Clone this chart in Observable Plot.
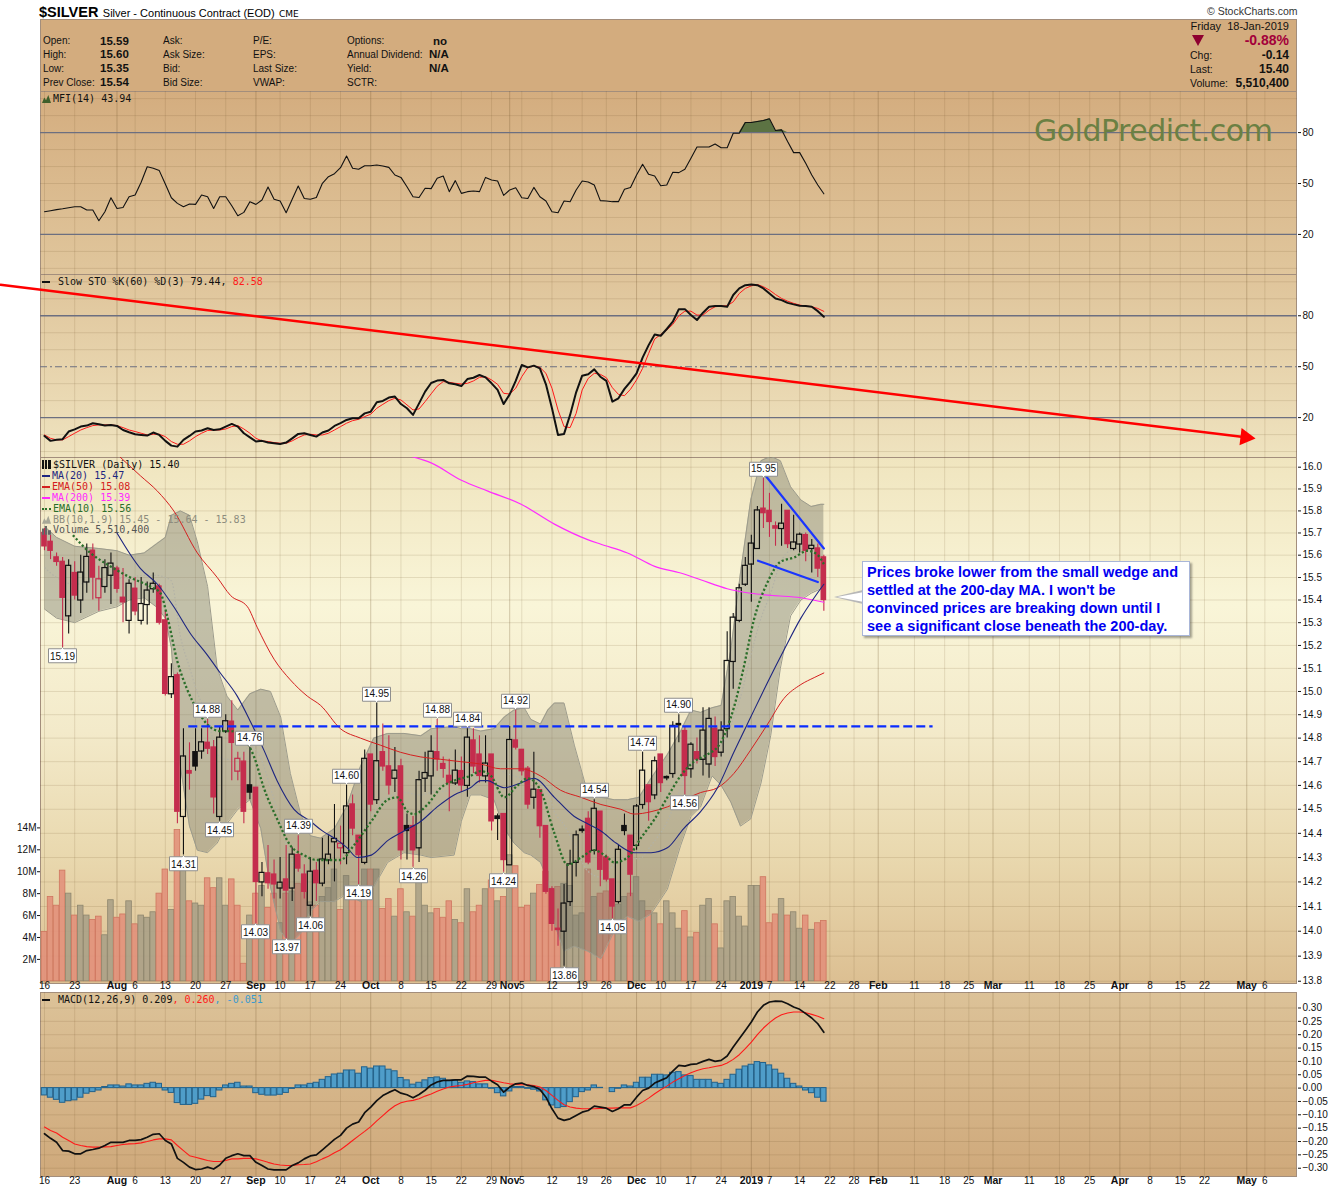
<!DOCTYPE html>
<html><head><meta charset="utf-8">
<script src="https://cdn.jsdelivr.net/npm/d3@7"></script>
<script src="https://cdn.jsdelivr.net/npm/@observablehq/plot@0.6"></script>
<style>
body{margin:0;background:#fff;}
#chart{position:relative;width:1340px;height:1192px;overflow:hidden;font-family:"Liberation Sans",Arial,sans-serif;background:#fff;}
.ic{display:inline-block;vertical-align:middle;margin-right:2px;}
</style></head>
<body><div id="chart"></div>
<script>
// ---------- date axis (trading-day index) ----------
const tickIdx = [0,5,12,15,20,25,30,35,39,44,49,54,59,64,69,74,77,79,84,89,93,98,102,107,112,117,120,125,130,134,138,144,149,153,157,163,168,173,178,183,188,192,199,202];
const tickLab = ["16","23","Aug","6","13","20","27","Sep","10","17","24","Oct","8","15","22","29","Nov","5","12","19","26","Dec","10","17","24","2019","7","14","22","28","Feb","11","18","25","Mar","11","18","25","Apr","8","15","22","May","6"];
const monthLab = ["Aug","Sep","Oct","Nov","Dec","2019","Feb","Mar","Apr","May"];
const priceTicks = [16.0,15.9,15.8,15.7,15.6,15.5,15.4,15.3,15.2,15.1,15.0,14.9,14.8,14.7,14.6,14.5,14.4,14.3,14.2,14.1,14.0,13.9,13.8];
const volTicks = [2,4,6,8,10,12,14];
const oscTicks = [80,50,20];
const macdTicks = [0.30,0.25,0.20,0.15,0.10,0.05,0.00,-0.05,-0.10,-0.15,-0.20,-0.25,-0.30];

// ---------- daily OHLC + volume (Jul 16 2018 .. Jan 18 2019) ----------
const O = [15.70,15.66,15.59,15.57,15.33,15.52,15.40,15.48,15.62,15.41,
 15.46,15.51,15.54,15.41,15.31,15.45,15.31,15.38,15.45,15.46,
 15.31,14.99,15.07,14.47,14.66,14.74,14.745,14.78,14.76,14.47,
 14.83,14.87,14.66,14.70,14.60,14.59,14.20,14.235,14.23,14.175,
 14.21,14.175,14.31,14.23,14.105,14.245,14.195,14.29,14.365,14.34,
 14.32,14.52,14.39,14.28,14.73,14.54,14.74,14.68,14.63,14.68,
 14.43,14.43,14.34,14.63,14.64,14.74,14.69,14.64,14.61,14.66,
 14.60,14.79,14.73,14.64,14.73,14.47,14.48,14.27,14.79,14.75,
 14.67,14.55,14.58,14.43,14.17,14.01,14.00,14.12,14.28,14.415,
 14.46,14.33,14.49,14.30,14.21,14.12,14.43,14.39,14.35,14.52,
 14.60,14.56,14.73,14.635,14.65,14.86,14.83,14.67,14.74,14.71,
 14.69,14.84,14.74,14.84,15.13,15.31,15.47,15.56,15.63,15.81,
 15.80,15.73,15.72,15.80,15.63,15.65,15.69,15.63,15.63,15.59];
const H = [15.72,15.69,15.61,15.59,15.58,15.57,15.60,15.65,15.65,15.55,
 15.58,15.61,15.55,15.54,15.49,15.50,15.50,15.48,15.52,15.47,
 15.35,15.12,15.08,14.84,14.78,14.84,14.84,14.88,14.79,14.85,
 14.90,14.96,14.74,14.74,14.76,14.59,14.28,14.35,14.29,14.30,
 14.35,14.34,14.39,14.27,14.30,14.28,14.38,14.39,14.52,14.43,
 14.60,14.56,14.39,14.75,14.73,14.95,14.86,14.81,14.76,14.71,
 14.48,14.47,14.66,14.74,14.81,14.88,14.72,14.71,14.75,14.72,
 14.84,14.84,14.81,14.81,14.73,14.48,14.48,14.85,14.92,14.75,
 14.68,14.74,14.58,14.43,14.18,14.09,14.19,14.33,14.41,14.43,
 14.49,14.54,14.49,14.31,14.21,14.35,14.48,14.39,14.52,14.74,
 14.60,14.72,14.73,14.64,14.87,14.90,14.85,14.78,14.80,14.93,
 14.93,14.89,14.87,15.26,15.34,15.47,15.59,15.69,15.82,15.95,
 15.88,15.75,15.83,15.80,15.78,15.70,15.70,15.67,15.65,15.60];
const L = [15.62,15.58,15.55,15.19,15.25,15.40,15.34,15.43,15.40,15.35,
 15.43,15.38,15.43,15.30,15.25,15.33,15.29,15.29,15.43,15.29,
 14.98,14.97,14.44,14.31,14.58,14.66,14.71,14.73,14.48,14.45,
 14.82,14.62,14.62,14.44,14.54,14.03,14.14,14.17,14.13,14.13,
 13.97,14.12,14.24,14.13,14.06,14.12,14.18,14.27,14.20,14.27,
 14.27,14.39,14.19,14.27,14.49,14.52,14.66,14.56,14.57,14.29,
 14.29,14.26,14.28,14.57,14.56,14.66,14.63,14.49,14.60,14.57,
 14.55,14.65,14.61,14.61,14.41,14.37,14.24,14.27,14.75,14.64,
 14.50,14.50,14.38,14.15,14.00,13.94,13.86,14.10,14.22,14.40,
 14.27,14.31,14.18,14.20,14.05,14.11,14.39,14.14,14.33,14.50,
 14.45,14.54,14.57,14.62,14.63,14.78,14.56,14.63,14.69,14.64,
 14.63,14.68,14.72,14.80,15.01,15.30,15.46,15.39,15.63,15.72,
 15.68,15.64,15.64,15.63,15.62,15.61,15.57,15.52,15.50,15.35];
const C = [15.64,15.62,15.57,15.41,15.55,15.42,15.52,15.59,15.50,15.49,
 15.54,15.56,15.45,15.39,15.47,15.35,15.38,15.44,15.47,15.30,
 14.99,15.06,14.49,14.72,14.65,14.68,14.78,14.755,14.55,14.80,
 14.87,14.78,14.71,14.49,14.57,14.20,14.235,14.195,14.19,14.195,
 14.165,14.31,14.255,14.16,14.24,14.195,14.29,14.31,14.375,14.355,
 14.51,14.42,14.31,14.71,14.52,14.70,14.68,14.60,14.66,14.33,
 14.41,14.33,14.62,14.65,14.74,14.71,14.67,14.61,14.66,14.60,
 14.80,14.68,14.64,14.69,14.45,14.46,14.29,14.79,14.76,14.66,
 14.52,14.58,14.43,14.16,14.03,14.005,14.11,14.27,14.39,14.41,
 14.28,14.50,14.25,14.21,14.10,14.33,14.41,14.23,14.51,14.66,
 14.53,14.70,14.61,14.63,14.85,14.855,14.64,14.77,14.71,14.83,
 14.88,14.72,14.83,15.13,15.32,15.45,15.55,15.65,15.80,15.79,
 15.75,15.72,15.74,15.65,15.655,15.69,15.62,15.64,15.54,15.40];
const V = [4.5,7.7,6.9,10.1,8.0,6.0,6.9,6.0,5.6,5.9,
 4.2,7.4,5.8,6.1,7.3,5.2,6.0,5.8,6.3,8.0,
 10.2,6.5,13.8,10.8,7.3,7.1,6.9,9.4,8.5,9.4,
 6.9,9.3,6.9,1.6,6.0,8.0,8.7,6.7,8.0,5.3,
 8.0,8.2,8.9,8.2,7.2,6.9,7.7,8.5,10.2,6.5,
 9.6,7.7,8.5,10.2,10.2,10.2,6.6,7.5,5.9,8.4,
 6.3,5.9,9.9,6.9,6.2,6.6,5.8,7.3,5.6,5.3,
 8.4,6.3,6.9,8.4,9.2,7.3,7.7,11.5,10.5,6.7,
 6.9,8.0,8.8,10.0,8.3,8.6,8.9,8.7,6.0,6.2,
 10.2,7.7,8.0,8.2,7.3,7.0,7.7,8.0,9.5,7.3,
 6.4,6.2,5.2,7.3,6.2,4.8,6.4,4.0,4.4,6.9,
 7.5,5.2,3.0,7.3,7.7,5.9,5.0,8.7,8.7,9.5,
 5.3,6.1,7.5,6.0,6.3,4.8,6.0,4.7,5.3,5.51];

// ---------- price overlays, read at sample points [index, value] ----------
const ma20 = [[12,15.70],[15.9,15.54],[18.7,15.47],[21.4,15.37],[24.2,15.25],[26.9,15.16],[29.1,15.08],[31.9,14.98],[34.1,14.87],[36.3,14.75],[38.5,14.62],[41.3,14.50],[44,14.45],[46,14.41],[48,14.38],[50.1,14.34],[51.8,14.30],[54.1,14.31],[56.8,14.37],[59.5,14.41],[62.3,14.45],[65,14.51],[67.8,14.56],[70.5,14.59],[72.2,14.62],[73.4,14.62],[75,14.60],[76.1,14.59],[78.8,14.61],[81,14.63],[84.4,14.55],[87.7,14.47],[89.9,14.44],[92.1,14.41],[94.6,14.36],[97.6,14.32],[100.4,14.32],[103.1,14.34],[105.8,14.42],[108.6,14.49],[111.4,14.59],[114.1,14.74],[116.9,14.89],[119.7,15.04],[122.4,15.18],[125.2,15.32],[127.4,15.41],[129,15.47]];
const ema50 = [[12,16.06],[15.9,15.96],[18.7,15.89],[21.4,15.80],[25.3,15.61],[28.6,15.50],[30.8,15.42],[33.6,15.37],[35.2,15.28],[38,15.14],[40.7,15.05],[43.5,14.98],[45.7,14.94],[49,14.84],[52.3,14.80],[55.6,14.77],[58.9,14.74],[62.3,14.72],[65.6,14.71],[68.9,14.70],[72.2,14.69],[75.5,14.67],[78.8,14.67],[82.1,14.64],[85.4,14.58],[88.8,14.55],[92.1,14.52],[95.4,14.50],[97.6,14.48],[100.4,14.49],[103.1,14.51],[105.8,14.54],[108.6,14.57],[111.4,14.59],[114.1,14.65],[116.9,14.75],[119.7,14.86],[122.4,14.97],[125.2,15.03],[127.4,15.06],[129,15.08]];
const ma200 = [[60.7,16.05],[64,16.02],[69,15.94],[73.4,15.89],[78.9,15.83],[84.4,15.74],[89.9,15.67],[92,15.65],[96.5,15.61],[101,15.55],[105.3,15.52],[108.6,15.49],[113,15.45],[116.9,15.43],[120.5,15.42],[125.2,15.41],[129,15.39]];
const ema10 = [[4.7,15.69],[7.6,15.61],[10.9,15.55],[14.2,15.50],[17.5,15.46],[19.2,15.43],[20.3,15.33],[22,15.13],[23.6,15.01],[25.3,14.92],[26.9,14.86],[29.1,14.83],[30.8,14.83],[33,14.80],[34.7,14.72],[36.3,14.59],[38.5,14.46],[40.7,14.35],[42.9,14.31],[45.1,14.29],[47.4,14.29],[49,14.29],[51.2,14.35],[54.1,14.45],[56.8,14.54],[58.4,14.55],[60.1,14.49],[61.2,14.48],[63.4,14.52],[65.6,14.59],[67.8,14.62],[70.5,14.64],[72.2,14.66],[73.9,14.64],[76.1,14.55],[78.3,14.60],[80,14.63],[82.1,14.58],[84.4,14.40],[86.6,14.27],[88.8,14.30],[91,14.33],[93.2,14.30],[94.3,14.28],[96.5,14.30],[98.7,14.38],[101,14.46],[103.1,14.55],[105.3,14.64],[107.5,14.70],[109.7,14.73],[111.9,14.78],[114.1,14.93],[115.7,15.10],[117.4,15.31],[119.7,15.48],[121.8,15.57],[124.1,15.59],[126.3,15.62],[128,15.60],[129,15.56]];
const bbIdx = [0,2,5,9,12,14,16.5,18.5,20,21,22.5,24,25.3,27,28.6,30.2,32,34,35.8,37.4,39.1,40.7,42.4,44,45.7,48,50,52.3,54.5,56.8,59.5,62.3,64,67.8,69,70.5,72.2,74.4,76.1,77.7,79.4,80.5,82.1,83.3,84.4,86,87.7,89.9,92.1,94.3,96.5,98.4,100.4,103.1,105.3,107,108.6,110.5,112,113.6,115.2,116.9,118.6,120.2,121.8,123.5,125.2,126.9,128.5,129];
const bbUpper = [15.73,15.68,15.64,15.63,15.62,15.60,15.61,15.65,15.68,15.78,15.80,15.78,15.66,15.46,15.10,14.98,14.92,14.99,15.01,15.00,14.89,14.65,14.48,14.39,14.38,14.42,14.51,14.68,14.80,14.82,14.82,14.81,14.84,14.85,14.84,14.84,14.83,14.84,14.89,14.92,14.93,14.88,14.86,14.92,14.95,14.95,14.77,14.57,14.55,14.54,14.54,14.55,14.63,14.73,14.83,14.92,14.91,14.93,14.94,15.18,15.52,15.85,16.03,16.05,16.03,15.91,15.85,15.82,15.83,15.83];
const bbLower = [15.36,15.32,15.30,15.35,15.37,15.40,15.41,15.37,15.32,15.19,14.68,14.43,14.33,14.32,14.36,14.44,14.50,14.54,14.42,14.18,14.00,13.95,13.99,14.08,14.12,14.12,14.15,14.12,14.18,14.28,14.32,14.31,14.30,14.31,14.45,14.56,14.56,14.54,14.42,14.36,14.32,14.31,14.28,14.21,14.03,13.92,13.94,13.92,13.89,14.00,14.06,14.04,14.07,14.17,14.35,14.47,14.51,14.64,14.60,14.53,14.43,14.46,14.61,14.81,15.10,15.33,15.40,15.43,15.45,15.45];

// ---------- annotations ----------
const callouts = [[3,"L"],[23,"L"],[27,"H"],[29,"L"],[34,"H"],[35,"L"],[40,"L"],[42,"H"],[44,"L"],[50,"H"],[52,"L"],[55,"H"],[61,"L"],[65,"H"],[70,"H"],[76,"L"],[78,"H"],[86,"L"],[91,"H"],[94,"L"],[99,"H"],[105,"H"],[106,"L"],[119,"H"]];
const supportLine = [[23.8,14.85],[147,14.85]];
const wedgeUpper = [[119.1,15.97],[129,15.63]];
const wedgeLower = [[118.1,15.575],[128,15.48]];
const trendLine = [[-7.28,98.2],[198.8,8.4]];

// ---------- indicators ----------
const mfi = [33.4,34.0,34.6,35.1,35.7,36.3,36.3,34.4,34.4,28.1,
 33.4,41.6,35.3,35.9,42.2,43.2,50.7,59.9,59.0,57.6,
 49.7,41.6,38.3,36.3,37.9,37.7,43.2,42.2,35.3,42.2,
 42.2,36.9,31.0,33.0,39.3,37.7,40.3,47.9,40.7,39.7,
 32.8,40.7,48.5,41.2,40.7,41.8,50.1,54.0,55.8,59.3,
 66.2,59.0,58.4,60.5,60.5,60.9,60.3,59.5,55.0,53.6,
 48.1,42.2,41.8,47.2,47.0,53.1,54.4,45.2,51.7,44.2,
 45.2,45.6,45.2,53.6,52.1,51.5,43.0,46.2,47.5,41.6,
 41.2,47.7,42.2,39.7,33.4,32.8,39.7,39.3,46.2,51.5,
 50.9,49.1,39.9,39.7,39.3,39.3,46.6,47.7,55.0,61.3,
 55.4,54.4,48.7,49.1,56.6,56.4,58.4,64.9,71.5,71.5,
 71.5,73.3,71.1,71.1,79.6,79.6,85.9,85.9,86.5,87.1,
 88.1,81.2,81.6,74.7,68.2,68.2,61.9,55.0,49.1,43.94];
const stoK = [9.2,6.3,6.9,7.3,11.8,13.1,14.7,15.3,16.7,16.1,
 15.3,15.7,15.1,12.7,11.4,10.2,9.8,9.4,11.2,9.8,
 6.3,3.5,2.9,6.9,9.2,11.8,12.4,13.7,12.7,13.1,
 14.7,16.3,14.7,10.8,8.4,5.9,6.3,5.3,4.9,4.5,
 5.3,7.8,10.4,10.8,9.8,8.8,11.2,12.4,15.1,16.7,
 18.6,19.6,19.6,22.5,23.5,29.0,29.8,31.8,32.4,28.0,
 25.5,21.6,28.4,35.3,40.4,41.8,42.2,40.2,39.6,38.6,
 42.7,43.5,45.1,43.7,40.2,36.3,28.0,33.7,41.6,51.0,
 49.6,50.6,49.0,39.6,25.5,9.8,10.4,21.6,34.9,44.7,
 45.5,48.4,44.1,41.6,29.4,31.4,36.9,41.2,46.1,55.3,
 62.7,69.0,68.2,72.2,76.5,83.9,83.9,80.4,77.5,81.8,
 85.3,85.7,85.7,85.3,92.2,96.1,98.0,98.4,98.0,96.1,
 93.1,90.2,89.2,87.6,86.7,85.9,85.7,85.3,82.7,79.44];
const stoD = [9.8,7.8,6.9,6.9,8.8,10.8,12.7,14.1,15.3,15.7,
 15.7,15.7,15.3,14.1,12.7,11.8,10.8,9.8,10.2,10.2,
 8.8,5.9,4.3,4.3,6.3,8.8,10.8,12.4,12.7,12.7,
 13.3,14.7,15.3,13.3,10.8,7.8,6.3,5.9,5.3,4.9,
 4.9,6.3,8.2,9.8,10.2,9.8,9.8,10.8,12.7,14.7,
 16.7,18.2,19.0,20.6,22.0,25.5,27.8,30.0,31.4,30.4,
 27.5,24.5,25.1,29.4,34.0,38.5,41.2,40.8,40.2,39.8,
 40.2,41.6,43.7,44.1,42.2,39.6,34.3,33.9,37.3,44.1,
 49.4,50.4,49.6,46.1,37.3,24.5,14.7,14.1,22.5,36.3,
 43.1,46.1,45.5,43.5,37.6,33.7,32.9,36.7,42.2,49.0,
 57.8,66.3,69.0,71.6,74.9,80.0,82.7,82.7,80.4,80.4,
 83.3,85.3,85.7,85.9,88.2,93.1,96.1,97.6,98.4,97.1,
 95.1,92.5,90.2,88.6,87.3,86.3,85.7,85.3,84.3,82.58];
const macdLine = [-0.171,-0.188,-0.203,-0.234,-0.236,-0.246,-0.246,-0.234,-0.230,-0.225,
 -0.215,-0.203,-0.203,-0.203,-0.196,-0.196,-0.193,-0.184,-0.173,-0.171,
 -0.196,-0.209,-0.263,-0.278,-0.296,-0.305,-0.303,-0.296,-0.303,-0.288,
 -0.263,-0.253,-0.246,-0.253,-0.253,-0.278,-0.290,-0.303,-0.306,-0.306,
 -0.306,-0.290,-0.280,-0.265,-0.254,-0.250,-0.231,-0.212,-0.192,-0.177,
 -0.150,-0.135,-0.127,-0.092,-0.071,-0.047,-0.028,-0.016,-0.006,-0.019,
 -0.025,-0.036,-0.024,-0.008,0.012,0.023,0.029,0.029,0.031,0.031,
 0.045,0.044,0.041,0.041,0.026,0.0125,-0.015,0.004,0.016,0.019,
 0.010,0.006,-0.005,-0.034,-0.0775,-0.1125,-0.121,-0.115,-0.1025,-0.090,
 -0.084,-0.0675,-0.071,-0.075,-0.0875,-0.0775,-0.0625,-0.0625,-0.034,-0.009,
 0.0,0.019,0.029,0.039,0.064,0.085,0.0825,0.089,0.091,0.100,
 0.1075,0.100,0.104,0.120,0.154,0.185,0.216,0.2475,0.285,0.310,
 0.3225,0.326,0.325,0.316,0.304,0.295,0.279,0.2625,0.241,0.209];
const macdSignal = [-0.146,-0.159,-0.168,-0.184,-0.196,-0.209,-0.215,-0.219,-0.221,-0.221,
 -0.220,-0.219,-0.215,-0.211,-0.209,-0.208,-0.205,-0.200,-0.194,-0.190,
 -0.190,-0.194,-0.215,-0.234,-0.253,-0.259,-0.265,-0.271,-0.275,-0.275,
 -0.271,-0.265,-0.265,-0.263,-0.263,-0.265,-0.271,-0.278,-0.284,-0.288,
 -0.290,-0.290,-0.287,-0.286,-0.284,-0.276,-0.265,-0.255,-0.242,-0.231,
 -0.214,-0.196,-0.179,-0.162,-0.144,-0.123,-0.103,-0.083,-0.066,-0.055,
 -0.049,-0.046,-0.040,-0.030,-0.022,-0.012,-0.003,0.004,0.0075,0.010,
 0.014,0.020,0.025,0.029,0.029,0.025,0.020,0.016,0.014,0.0125,
 0.0125,0.010,0.004,-0.009,-0.0275,-0.046,-0.0625,-0.071,-0.075,-0.0775,
 -0.0775,-0.0775,-0.076,-0.075,-0.075,-0.074,-0.074,-0.074,-0.065,-0.0525,
 -0.0375,-0.021,-0.006,0.0075,0.0225,0.035,0.0475,0.0575,0.066,0.0725,
 0.076,0.081,0.085,0.094,0.1075,0.125,0.1475,0.1725,0.200,0.225,
 0.245,0.2625,0.275,0.281,0.285,0.285,0.2825,0.276,0.269,0.260];
const macdHist = [-0.0275,-0.036,-0.044,-0.055,-0.049,-0.046,-0.036,-0.021,-0.015,-0.009,
 0.004,0.010,0.010,0.006,0.014,0.010,0.010,0.016,0.020,0.016,
 -0.009,-0.018,-0.056,-0.063,-0.063,-0.059,-0.043,-0.030,-0.034,-0.009,
 0.010,0.016,0.020,0.006,0.006,-0.019,-0.025,-0.028,-0.028,-0.025,
 -0.018,-0.003,0.010,0.010,0.016,0.020,0.031,0.041,0.051,0.054,
 0.066,0.066,0.054,0.078,0.073,0.081,0.081,0.069,0.063,0.038,
 0.029,0.013,0.020,0.029,0.0375,0.040,0.035,0.0275,0.029,0.020,
 0.025,0.0225,0.014,0.014,-0.0025,-0.019,-0.031,-0.0125,0.004,0.004,
 -0.0025,-0.006,-0.0125,-0.046,-0.065,-0.075,-0.071,-0.0525,-0.034,-0.015,
 -0.009,0.010,0.001,0.0,-0.015,-0.0025,0.010,0.006,0.020,0.039,
 0.039,0.050,0.050,0.0475,0.0575,0.060,0.0475,0.045,0.031,0.031,
 0.031,0.020,0.016,0.031,0.050,0.069,0.081,0.0875,0.0975,0.094,
 0.085,0.069,0.054,0.035,0.016,0.006,-0.009,-0.019,-0.036,-0.051];

// ================= rendering =================
const root = document.getElementById("chart");
function div(css, html){const d=document.createElement("div");d.style.cssText="position:absolute;"+css;if(html!=null)d.innerHTML=html;root.appendChild(d);return d;}

const RED = "#c42d4d";
const ticks = tickIdx.map((i,k)=>({i, t: tickLab[k], m: monthLab.includes(tickLab[k])}));
const candles = O.map((o,k)=>{const c=C[k];const up=k>0&&c>=C[k-1];return {i:k,o,h:H[k],l:L[k],c,v:V[k],up,col:up?"#111":RED,hollow:c>=o};});
const series = arr => arr.map((v,i)=>({i,v}));
const bb = bbIdx.map((i,k)=>({i, up: bbUpper[k], lo: bbLower[k], mid: (bbUpper[k]+bbLower[k])/2}));
const tipData = callouts.map(([i,s])=>({i,s,v: s==="H"?H[i]:L[i]}));

const X = {domain:[-0.66,207.4], axis:null};
const FONT = "'Liberation Sans', Arial, sans-serif";
function frame(top,bottom){
  return {width:1340,height:1192,marginLeft:40,marginRight:43,marginTop:top,marginBottom:1192-bottom,
    style:{position:"absolute",left:"0px",top:"0px",background:"transparent",overflow:"visible",
      fontFamily:FONT,fontSize:"10px",pointerEvents:"none",maxWidth:"none",color:"#111"}};
}
const GRID = "#6b4e28";
function vgrid(){return [
  Plot.ruleX(ticks.filter(d=>!d.m),{x:"i",stroke:GRID,strokeOpacity:0.15}),
  Plot.ruleX(ticks.filter(d=>d.m),{x:"i",stroke:GRID,strokeOpacity:0.28})
];}
function dateLabels(dy){return [
  Plot.text(ticks.filter(d=>!d.m),{x:"i",text:"t",frameAnchor:"bottom",dy,fontSize:10,fill:"#111"}),
  Plot.text(ticks.filter(d=>d.m),{x:"i",text:"t",frameAnchor:"bottom",dy,fontSize:10.5,fontWeight:"bold",fill:"#111"})
];}
const yAxisR = (t,f)=>Plot.axisY({anchor:"right",ticks:t,tickFormat:f,tickSize:3,tickPadding:2,fontSize:10,label:null});
function add(p){root.appendChild(p);}

// panel backgrounds
div("left:40px;top:19px;width:1257px;height:73px;box-sizing:border-box;border:1px solid #a38e7c;background:#d3ac7e;");
div("left:40px;top:91px;width:1257px;height:184px;box-sizing:border-box;border:1px solid #a38e7c;background:linear-gradient(#d4ad7f,#e0c69c);");
div("left:40px;top:274px;width:1257px;height:184px;box-sizing:border-box;border:1px solid #a38e7c;background:linear-gradient(#dfc49a,#efe3bf);");
div("left:40px;top:457px;width:1257px;height:527px;box-sizing:border-box;border:1px solid #a38e7c;background:linear-gradient(#f0e5bf 0%,#f9f5d8 28%,#f3eaca 52%,#e9d8ae 76%,#dcbf92 100%);");
div("left:40px;top:992px;width:1257px;height:185px;box-sizing:border-box;border:1px solid #a38e7c;background:linear-gradient(#dcc298,#cfa97b);");

// ---- MFI ----
add(Plot.plot({...frame(91,274), x:X, y:{domain:[-3.6,104.2],label:null},
  marks:[
    ...vgrid(),
    Plot.ruleY([0,10,30,40,50,60,70,90,100],{stroke:GRID,strokeOpacity:0.15}),
    Plot.ruleY([80,20],{stroke:"#6c6f80",strokeWidth:1.3}),
    Plot.areaY(series(mfi),{x:"i",y1:80,y2:d=>Math.max(80,d.v),fill:"#5c7343"}),
    Plot.line(series(mfi),{x:"i",y:"v",stroke:"#111",strokeWidth:1.1}),
    yAxisR(oscTicks)
  ]}));

// ---- Slow STO ----
add(Plot.plot({...frame(274,457), x:X, y:{domain:[-3.5,104.3],label:null},
  marks:[
    ...vgrid(),
    Plot.ruleY([0,10,30,40,60,70,90,100],{stroke:GRID,strokeOpacity:0.15}),
    Plot.ruleY([80,20],{stroke:"#6c6f80",strokeWidth:1.3}),
    Plot.ruleY([50],{stroke:"#6c6f80",strokeWidth:1.1,strokeDasharray:"7,3,2,3"}),
    Plot.line(series(stoD),{x:"i",y:"v",stroke:"#ff1a1a",strokeWidth:1}),
    Plot.line(series(stoK),{x:"i",y:"v",stroke:"#111",strokeWidth:2}),
    Plot.line(trendLine,{stroke:"#ff0000",strokeWidth:2.5}),
    Plot.dot([trendLine[1]],{x:d=>d[0],y:d=>d[1],symbol:"triangle",r:6.5,fill:"#ff0000",rotate:97}),
    yAxisR(oscTicks)
  ]}));

// ---- price grid ----
add(Plot.plot({...frame(457,983), x:X, y:{type:"log",domain:[13.791,16.0447],axis:null},
  marks:[...vgrid(), Plot.ruleY(priceTicks,{stroke:GRID,strokeOpacity:0.15})]}));

// ---- volume ----
add(Plot.plot({...frame(457,983), x:X, y:{domain:[-0.2,47.8],label:null}, color:{type:"identity"},
  marks:[
    Plot.rect(candles,{x1:d=>d.i-0.46,x2:d=>d.i+0.46,y1:0,y2:"v",
      fill:d=>d.up?"#aba187":"#e2917b",stroke:d=>d.up?"#8e866e":"#cf765f",strokeWidth:0.8,fillOpacity:0.9}),
    Plot.axisY({anchor:"left",ticks:volTicks,tickFormat:d=>d+"M",tickSize:3,tickPadding:1,fontSize:10,label:null})
  ]}));

// ---- price ----
const tipOpts = {x:"i",y:"v",title:d=>d.v.toFixed(2),fill:"white",stroke:"#8f8f8f",strokeWidth:1,fontSize:10,textPadding:1.5,pointerSize:2.5,pathFilter:"none"};
const tipMarks = Plot.tip ? [
  Plot.tip(tipData.filter(d=>d.s==="L"),{...tipOpts,anchor:"top",dy:0}),
  Plot.tip(tipData.filter(d=>d.s==="H"),{...tipOpts,anchor:"bottom",dy:-1})
] : [
  Plot.text(tipData,{x:"i",y:"v",text:d=>d.v.toFixed(2),fill:"#111",stroke:"white",strokeWidth:3})
];
add(Plot.plot({...frame(457,983), x:X, y:{type:"log",domain:[13.791,16.0447],label:null}, color:{type:"identity"},
  marks:[
    Plot.areaY(bb,{x:"i",y1:"lo",y2:"up",fill:"#76766a",fillOpacity:0.42,clip:true}),
    Plot.line(bb,{x:"i",y:"up",stroke:"#9c9b8c",strokeWidth:1,clip:true}),
    Plot.line(bb,{x:"i",y:"lo",stroke:"#9c9b8c",strokeWidth:1,clip:true}),
    Plot.line(bb,{x:"i",y:"mid",stroke:"#b3b2a6",strokeWidth:1.2,strokeDasharray:"1.5,2",strokeLinecap:"butt",curve:"monotone-x",clip:true}),
    Plot.ruleX(candles,{x:"i",y1:"h",y2:d=>Math.max(d.o,d.c),stroke:"col",strokeWidth:1.1}),
    Plot.ruleX(candles,{x:"i",y1:d=>Math.min(d.o,d.c),y2:"l",stroke:"col",strokeWidth:1.1}),
    Plot.rect(candles.filter(d=>d.hollow),{x1:d=>d.i-0.42,x2:d=>d.i+0.42,y1:"o",y2:"c",fill:"none",stroke:"col",strokeWidth:1.2,insetTop:-0.5,insetBottom:-0.5}),
    Plot.rect(candles.filter(d=>!d.hollow),{x1:d=>d.i-0.47,x2:d=>d.i+0.47,y1:"o",y2:"c",fill:"col",insetTop:-0.7,insetBottom:-0.7}),
    Plot.line(ema50,{stroke:"#d42020",strokeWidth:1,curve:"monotone-x",clip:true}),
    Plot.line(ma200,{stroke:"#ff2bff",strokeWidth:1.2,curve:"monotone-x",clip:true}),
    Plot.line(ma20,{stroke:"#1d2580",strokeWidth:1.1,curve:"monotone-x",clip:true}),
    Plot.line(ema10,{stroke:"#2a6e2a",strokeWidth:2.3,strokeDasharray:"2.2,2.2",strokeLinecap:"butt",curve:"monotone-x",clip:true}),
    Plot.line(supportLine,{stroke:"#0a2cff",strokeWidth:2.2,strokeDasharray:"9,4",strokeLinecap:"butt"}),
    Plot.line(wedgeUpper,{stroke:"#1a35ff",strokeWidth:2.2}),
    Plot.line(wedgeLower,{stroke:"#1a35ff",strokeWidth:2.2}),
    ...tipMarks,
    yAxisR(priceTicks,d3.format(".1f")),
    ...dateLabels(5)
  ]}));

// ---- MACD ----
add(Plot.plot({...frame(992,1176), x:X, y:{domain:[-0.331,0.358],label:null},
  marks:[
    ...vgrid(),
    Plot.ruleY(macdTicks,{stroke:GRID,strokeOpacity:0.15}),
    Plot.rect(series(macdHist),{x1:d=>d.i-0.45,x2:d=>d.i+0.45,y1:0,y2:"v",fill:"#4f9dc9",stroke:"#22628c",strokeWidth:1}),
    Plot.line(series(macdSignal),{x:"i",y:"v",stroke:"#ff1a1a",strokeWidth:1.1}),
    Plot.line(series(macdLine),{x:"i",y:"v",stroke:"#111",strokeWidth:1.7}),
    yAxisR(macdTicks,d3.format(".2f")),
    ...dateLabels(7.5)
  ]}));

// ================= HTML text =================
div("left:39px;top:3px;white-space:nowrap;",
 '<span style="font:bold 14.5px \'Liberation Sans\',Arial;">$SILVER</span> <span style="font:11px \'Liberation Sans\',Arial;">Silver - Continuous Contract (EOD)</span> <span style="font:9px \'DejaVu Sans\',Arial;">CME</span>');
div("left:1207px;top:5px;font:10.5px 'Liberation Sans',Arial;color:#333;white-space:nowrap;","© StockCharts.com");

const hdr = [
 [43,41.7,"Open:"],[43,55,"High:"],[43,69.3,"Low:"],[43,83.3,"Prev Close:"],
 [163,41.7,"Ask:"],[163,55,"Ask Size:"],[163,69.3,"Bid:"],[163,83.3,"Bid Size:"],
 [253,41.7,"P/E:"],[253,55,"EPS:"],[253,69.3,"Last Size:"],[253,83.3,"VWAP:"],
 [347,41.7,"Options:"],[347,55,"Annual Dividend:"],[347,69.3,"Yield:"],[347,83.3,"SCTR:"]];
hdr.forEach(([x,y,t])=>div(`left:${x}px;top:${y-6.5}px;font:10px 'Liberation Sans',Arial;white-space:nowrap;color:#111;`,t));
const hdrV = [[100,41.7,"15.59"],[100,55,"15.60"],[100,69.3,"15.35"],[100,83.3,"15.54"],[433,41.7,"no"],[429,55,"N/A"],[429,69.3,"N/A"]];
hdrV.forEach(([x,y,t])=>div(`left:${x}px;top:${y-7}px;font:bold 11.5px 'Liberation Sans',Arial;white-space:nowrap;color:#111;`,t));
div("right:51px;top:19.5px;font:11px 'Liberation Sans',Arial;white-space:pre;color:#111;","Friday  18-Jan-2019");
div("left:1192px;top:35px;width:0;height:0;border-left:6px solid transparent;border-right:6px solid transparent;border-top:11px solid #8e0030;");
div("right:51px;top:32px;font:bold 14px 'Liberation Sans',Arial;color:#a3003a;white-space:nowrap;","-0.88%");
[[55,"Chg:","-0.14"],[69.3,"Last:","15.40"],[83.3,"Volume:","5,510,400"]].forEach(([y,a,b])=>{
  div(`left:1190px;top:${y-6.5}px;font:10.5px 'Liberation Sans',Arial;color:#111;`,a);
  div(`right:51px;top:${y-7.5}px;font:bold 12px 'Liberation Sans',Arial;color:#111;white-space:nowrap;`,b);
});

div("left:1034px;top:113px;font:30px 'DejaVu Sans',Verdana,sans-serif;color:#6b8043;white-space:nowrap;letter-spacing:-0.5px;","GoldPredict.com");

const mtn = c=>`<span class="ic" style="width:9px;height:8px;background:${c};clip-path:polygon(0 100%,25% 30%,45% 65%,70% 0,100% 100%);"></span>`;
const dash = c=>`<span class="ic" style="width:8px;height:2px;background:${c};"></span>`;
div("left:42px;top:93px;font:10px 'DejaVu Sans Mono',monospace;white-space:pre;color:#111;",mtn("#3f5f2a")+"MFI(14) 43.94");
div("left:42px;top:275.5px;font:10px 'DejaVu Sans Mono',monospace;white-space:pre;color:#111;",dash("#111")+' Slow STO %K(60) %D(3) 79.44, <span style="color:#ff1a1a">82.58</span>');
div("left:42px;top:994px;font:10px 'DejaVu Sans Mono',monospace;white-space:pre;color:#111;",dash("#111")+' MACD(12,26,9) 0.209<span style="color:#ff1a1a">, 0.260</span><span style="color:#3a9ad0">, -0.051</span>');
const candleIc = '<span class="ic" style="width:9px;height:9px;background:linear-gradient(90deg,#111 0 2px,transparent 2px 3px,#111 3px 5px,transparent 5px 6px,#111 6px 9px);"></span>';
const barIc = '<span class="ic" style="width:9px;height:9px;background:linear-gradient(90deg,#666 0 2px,transparent 2px 3px,#666 3px 5px,transparent 5px 6px,#666 6px 9px);clip-path:polygon(0 30%,33% 30%,33% 0,66% 0,66% 50%,100% 50%,100% 100%,0 100%);"></span>';
const dotIc = '<span class="ic" style="width:9px;height:0;border-top:2px dotted #2a6e2a;"></span>';
const legLines = [
  [464.7,"#111",candleIc+"$SILVER (Daily) 15.40"],
  [475.7,"#1d2580",dash("#1d2580")+"MA(20) 15.47"],
  [486.7,"#d42020",dash("#d42020")+"EMA(50) 15.08"],
  [497.7,"#ff2bff",dash("#ff2bff")+"MA(200) 15.39"],
  [508.8,"#2a6e2a",dotIc+"EMA(10) 15.56"],
  [519.8,"#8d8c7e",mtn("#a8a898")+"BB(10,1.9) 15.45 - 15.64 - 15.83"],
  [530.2,"#555",barIc+"Volume 5,510,400"]];
legLines.forEach(([y,c,h])=>div(`left:42px;top:${y-6}px;font:10px 'DejaVu Sans Mono',monospace;white-space:pre;line-height:12px;color:${c};`,h));

div("left:834px;top:590px;width:0;height:0;border-top:7px solid transparent;border-bottom:7px solid transparent;border-right:29px solid #b8b8b8;");
div("left:837px;top:591.5px;width:0;height:0;border-top:5.5px solid transparent;border-bottom:5.5px solid transparent;border-right:27px solid #fff;");
div("left:862px;top:561px;width:328px;height:75px;box-sizing:border-box;background:#fff;border:1px solid #a9b6d8;box-shadow:2px 2px 2px rgba(0,0,0,0.35);padding:1px 0 0 4px;font:bold 14.5px 'Liberation Sans',Arial;line-height:18px;color:#0000f0;white-space:nowrap;overflow:hidden;",
 "Prices broke lower from the small wedge and<br>settled at the 200-day MA. I won't be<br>convinced prices are breaking down until I<br>see a significant close beneath the 200-day.");
</script></body></html>
